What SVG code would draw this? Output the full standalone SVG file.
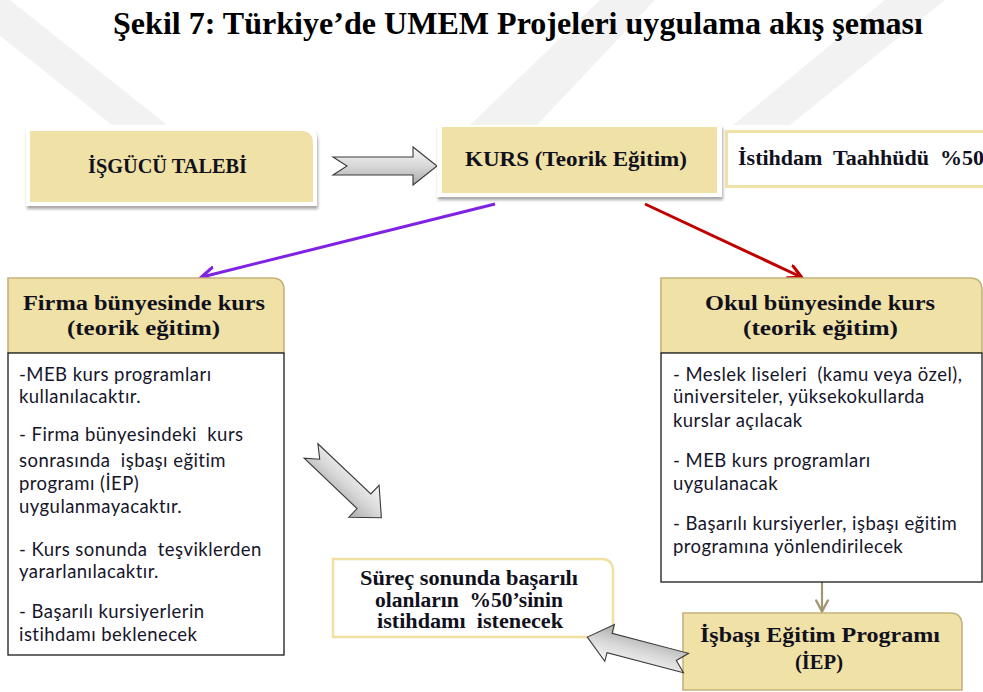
<svg xmlns="http://www.w3.org/2000/svg" width="983" height="692" viewBox="0 0 983 692">
<style>
.h{font-family:"Liberation Serif","DejaVu Serif",serif;font-weight:bold;font-size:20px;fill:#11111d;white-space:pre}
.t{font-family:"Liberation Serif","DejaVu Serif",serif;font-weight:bold;font-size:32px;fill:#000}
.b{font-family:Lato,"Noto Sans",sans-serif;font-size:18.5px;letter-spacing:0.45px;fill:#16162a;white-space:pre}
.tan{fill:#f0e1a6;stroke:#c4b27c;stroke-width:1.6}
.wm{fill:#f2f2f2}
.garrow{fill:url(#gg);stroke:#3a3a3a;stroke-width:1.1;stroke-linejoin:miter}
</style>
<defs>
<linearGradient id="gg" x1="0" y1="0" x2="0" y2="1">
<stop offset="0" stop-color="#f7f7f7"/>
<stop offset="0.5" stop-color="#d8d8d8"/>
<stop offset="1" stop-color="#a9a9a9"/>
</linearGradient>
<filter id="sh" x="-5%" y="-10%" width="110%" height="125%">
<feDropShadow dx="1" dy="3" stdDeviation="1.6" flood-color="#000" flood-opacity="0.35"/>
</filter>
<marker id="mp" viewBox="0 0 12 12" refX="10" refY="6" markerWidth="16" markerHeight="16" markerUnits="userSpaceOnUse" orient="auto">
<path d="M1,1 L10.5,6 L1,11" fill="none" stroke="#7f22e3" stroke-width="2.4" stroke-linecap="round"/>
</marker>
<marker id="mr" viewBox="0 0 12 12" refX="10" refY="6" markerWidth="16" markerHeight="16" markerUnits="userSpaceOnUse" orient="auto">
<path d="M1,1 L10.5,6 L1,11" fill="none" stroke="#c00000" stroke-width="2.4" stroke-linecap="round"/>
</marker>
<marker id="mo" viewBox="0 0 12 12" refX="10" refY="6" markerWidth="14" markerHeight="14" markerUnits="userSpaceOnUse" orient="auto">
<path d="M1,1 L10.5,6 L1,11" fill="none" stroke="#a29670" stroke-width="2" stroke-linecap="round"/>
</marker>
</defs>
<rect width="983" height="692" fill="#fff"/>
<g id="watermark">
<polygon class="wm" points="-45,0 10,0 167,125 112,125"/>
<polygon class="wm" points="600,0 655,0 537,125 470,125"/>
<polygon class="wm" points="885,0 945,0 790,125 733,125"/>
</g>
<g id="title">
<text class="t" x="113" y="34" textLength="810" lengthAdjust="spacingAndGlyphs">Şekil 7: Türkiye’de UMEM Projeleri uygulama akış şeması</text>
</g>
<g id="connectors">
<path class="garrow" transform="translate(333,166)" d="M0,-9 L80,-9 L80,-19 L104,0 L80,19 L80,9 L0,9 L14,0 Z"/>
<line x1="495" y1="204" x2="202" y2="277" stroke="#7f22e3" stroke-width="3" marker-end="url(#mp)"/>
<line x1="645" y1="204" x2="801" y2="277" stroke="#c00000" stroke-width="3" marker-end="url(#mr)"/>
<path class="garrow" transform="translate(311,451) rotate(43.5)" d="M0,-10 L73,-10 L73,-22 L97,0 L73,22 L73,10 L0,10 L12,0 Z"/>
<line x1="822" y1="582" x2="822" y2="611" stroke="#a29670" stroke-width="2.2" marker-end="url(#mo)"/>
</g>
<g id="isgucu">
<path d="M26,206 V127 H305 Q317,127 317,139 V206 Z" fill="#fff" filter="url(#sh)"/>
<path d="M30,202 V131 H301 Q313,131 313,143 V202 Z" fill="#f0e1a6"/>
<text class="h" x="88" y="173" textLength="159" lengthAdjust="spacingAndGlyphs">İŞGÜCÜ TALEBİ</text>
</g>
<g id="kurs">
<rect x="437" y="125" width="285" height="72" fill="#fff" filter="url(#sh)"/>
<rect x="442" y="127" width="275" height="66" fill="#f0e1a6"/>
<text class="h" x="465" y="166" textLength="222" lengthAdjust="spacingAndGlyphs">KURS (Teorik Eğitim)</text>
</g>
<g id="istihdam">
<rect x="726.5" y="131.5" width="270" height="55" fill="#fff" stroke="#f0e1a6" stroke-width="3"/>
<text class="h" x="738" y="165" textLength="246" lengthAdjust="spacingAndGlyphs">İstihdam  Taahhüdü  %50</text>
</g>
<g id="firma">
<path class="tan" d="M8,353 V278 H272 Q284,278 284,290 V353 Z"/>
<rect x="8" y="353" width="276" height="302" fill="#fff" stroke="#1a1a1a" stroke-width="1.3"/>
<text class="h" x="23" y="310" textLength="242" lengthAdjust="spacingAndGlyphs">Firma bünyesinde kurs</text>
<text class="h" x="67" y="335" textLength="153" lengthAdjust="spacingAndGlyphs">(teorik eğitim)</text>
<text class="b" x="19" y="381">-MEB kurs programları</text>
<text class="b" x="19" y="403">kullanılacaktır.</text>
<text class="b" x="19" y="441">- Firma bünyesindeki  kurs</text>
<text class="b" x="19" y="467">sonrasında  işbaşı eğitim</text>
<text class="b" x="19" y="490">programı (İEP)</text>
<text class="b" x="19" y="513">uygulanmayacaktır.</text>
<text class="b" x="19" y="556">- Kurs sonunda  teşviklerden</text>
<text class="b" x="19" y="578">yararlanılacaktır.</text>
<text class="b" x="19" y="618">- Başarılı kursiyerlerin</text>
<text class="b" x="19" y="641">istihdamı beklenecek</text>
</g>
<g id="okul">
<path class="tan" d="M661,353 V278 H970 Q982,278 982,290 V353 Z"/>
<rect x="661" y="353" width="321" height="229" fill="#fff" stroke="#1a1a1a" stroke-width="1.3"/>
<text class="h" x="705" y="310" textLength="230" lengthAdjust="spacingAndGlyphs">Okul bünyesinde kurs</text>
<text class="h" x="743" y="335" textLength="155" lengthAdjust="spacingAndGlyphs">(teorik eğitim)</text>
<text class="b" x="673" y="381">- Meslek liseleri  (kamu veya özel),</text>
<text class="b" x="673" y="403">üniversiteler, yüksekokullarda</text>
<text class="b" x="673" y="427">kurslar açılacak</text>
<text class="b" x="673" y="467">- MEB kurs programları</text>
<text class="b" x="673" y="490">uygulanacak</text>
<text class="b" x="673" y="530">- Başarılı kursiyerler, işbaşı eğitim</text>
<text class="b" x="673" y="553">programına yönlendirilecek</text>
</g>
<g id="surec">
<path d="M333,559 H601 Q613,559 613,571 V637 H333 Z" fill="#fff" stroke="#f0e0a2" stroke-width="2.5"/>
<text class="h" x="360" y="585" textLength="218" lengthAdjust="spacingAndGlyphs">Süreç sonunda başarılı</text>
<text class="h" x="375" y="607" textLength="188" lengthAdjust="spacingAndGlyphs">olanların  %50’sinin</text>
<text class="h" x="377" y="628" textLength="186" lengthAdjust="spacingAndGlyphs">istihdamı  istenecek</text>
</g>
<g id="iep">
<path class="tan" d="M683,690 V613 H950 Q962,613 962,625 V690 Z"/>
<text class="h" x="700" y="642" textLength="240" lengthAdjust="spacingAndGlyphs">İşbaşı Eğitim Programı</text>
<text class="h" x="795" y="669" textLength="48" lengthAdjust="spacingAndGlyphs">(İEP)</text>
</g>
<g id="connector-back">
<path class="garrow" transform="translate(686,663) rotate(194.7)" d="M0,-10 L79,-10 L79,-19 L102,0 L79,19 L79,10 L0,10 L10,0 Z"/>
</g>
</svg>
